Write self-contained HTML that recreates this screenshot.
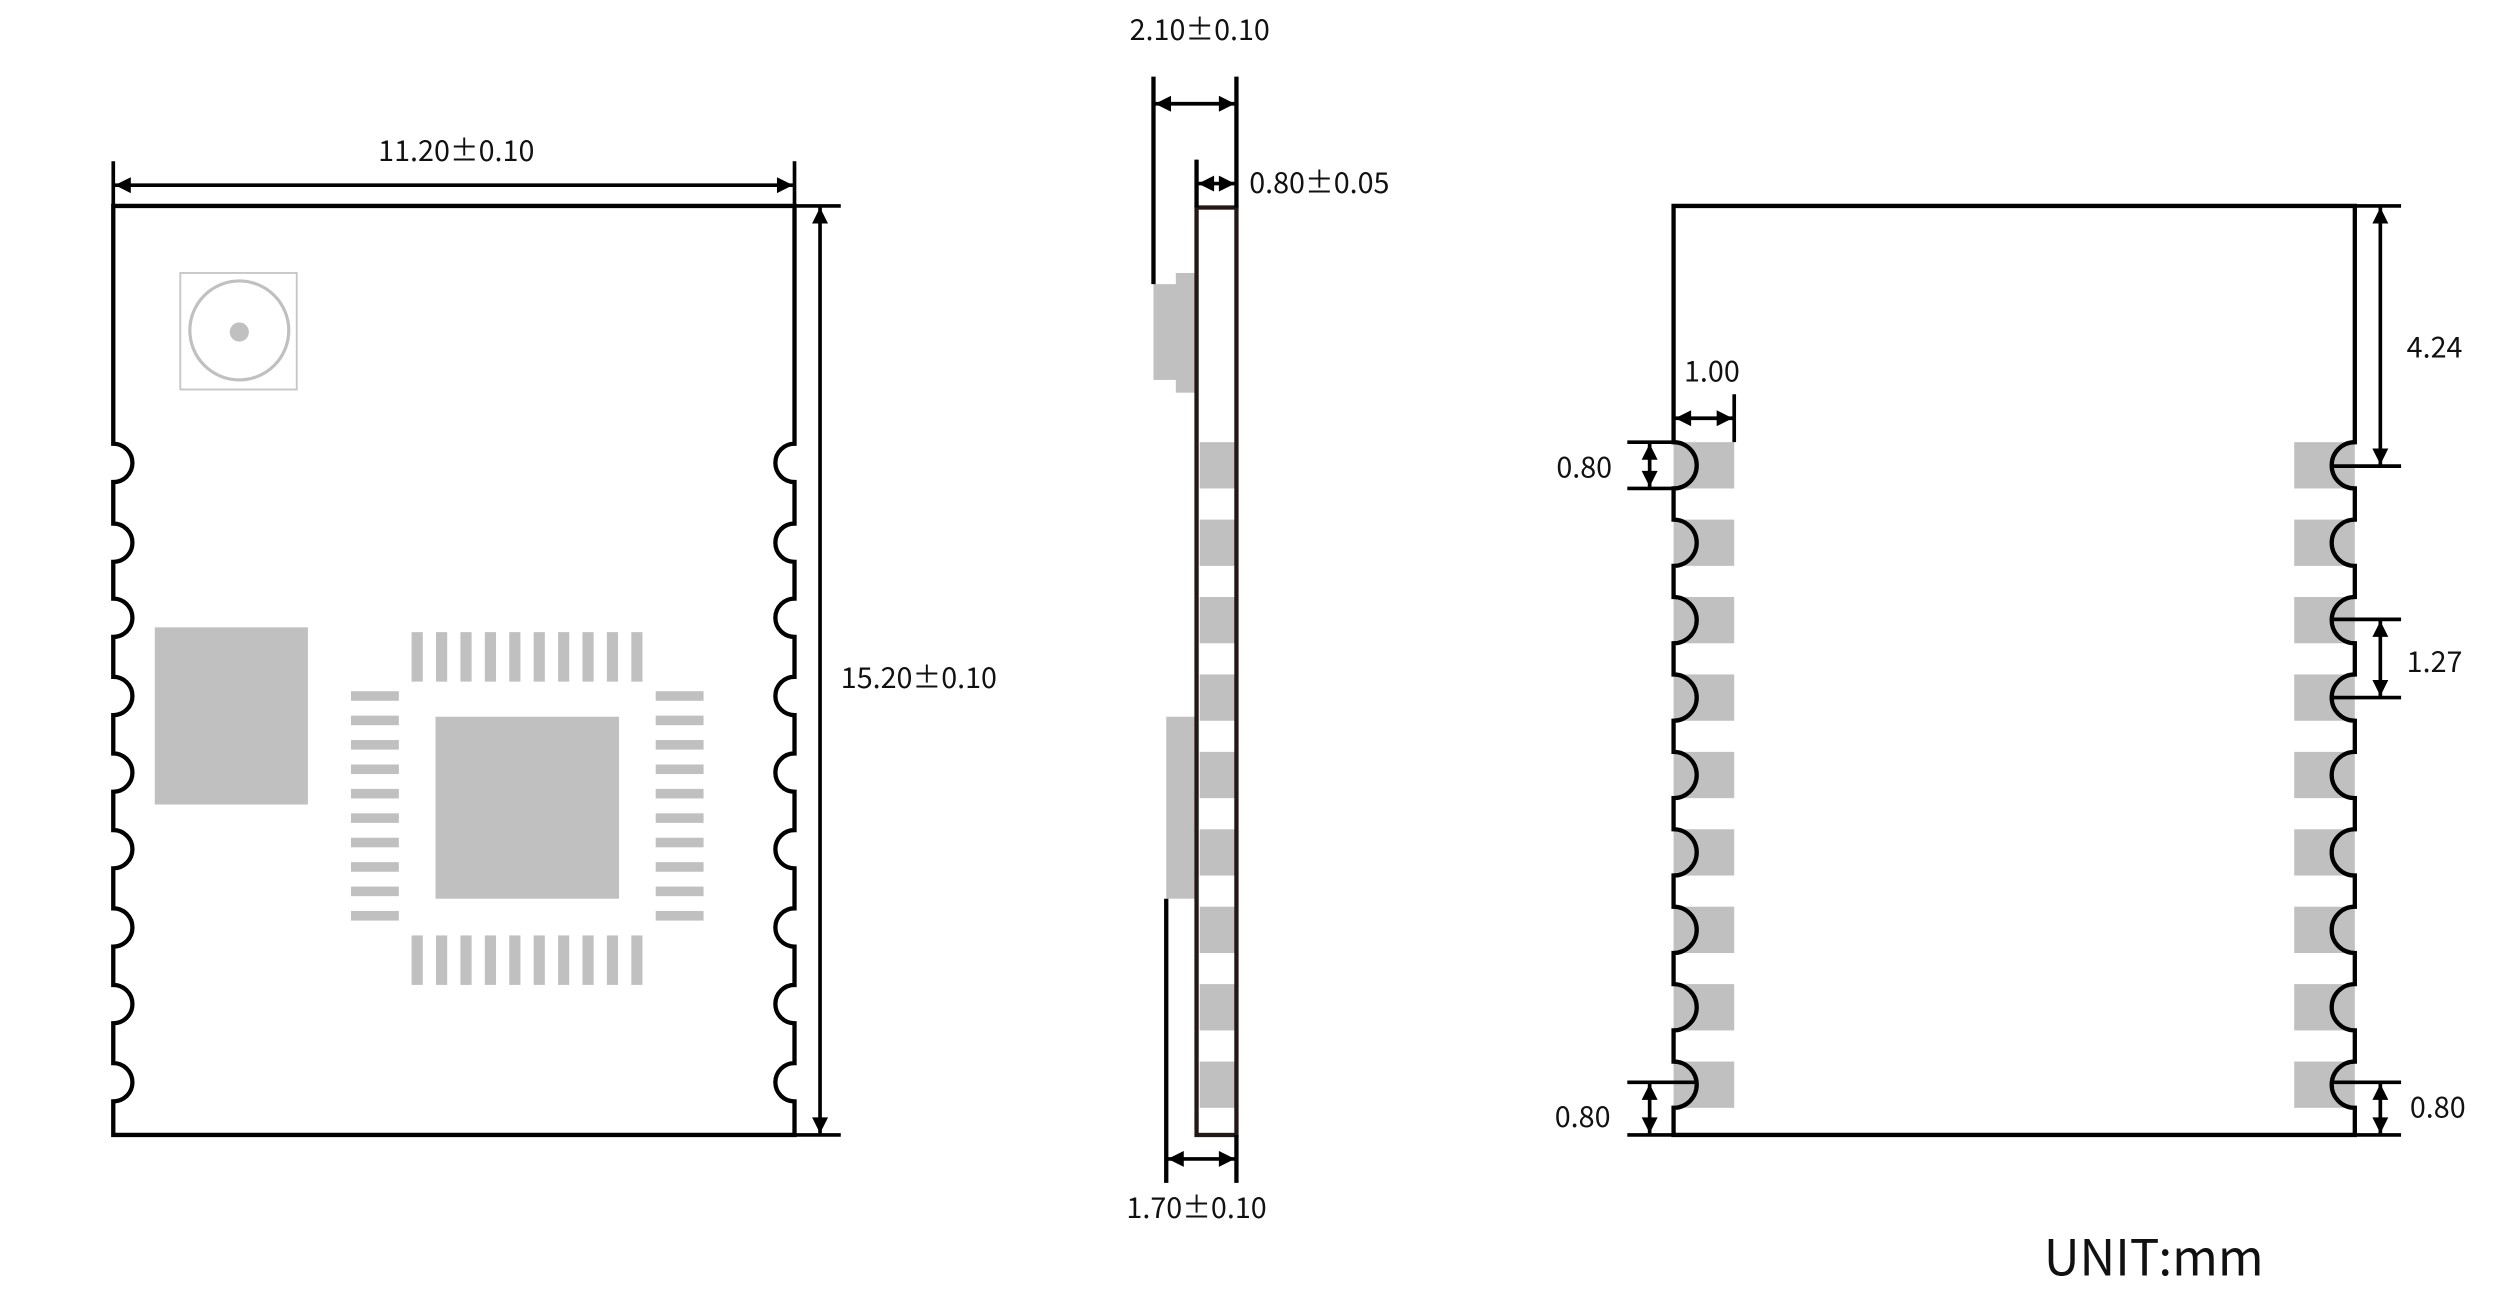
<!DOCTYPE html>
<html><head><meta charset="utf-8"><style>
html,body{margin:0;padding:0;background:#fff;}
svg{display:block;}
text{font-family:"Noto Sans CJK SC","Liberation Sans",sans-serif;fill:#111;}
</style></head><body>
<svg width="2500" height="1293" viewBox="0 0 1567 810" preserveAspectRatio="none" xmlns="http://www.w3.org/2000/svg">
<defs>
<marker id="b" viewBox="0 0 10 10" refX="10" refY="5" markerWidth="12" markerHeight="10" orient="auto-start-reverse" markerUnits="userSpaceOnUse"><path d="M0,0 L10,5 L0,10 z" fill="#000"/></marker>
</defs>
<g fill="#c0c0c0">
<rect x="97" y="393" width="96" height="111"/>
<rect x="273" y="449" width="115" height="114"/>
<g id="tp">
<rect x="258" y="396" width="7" height="31"/><rect x="273.3" y="396" width="7" height="31"/><rect x="288.6" y="396" width="7" height="31"/><rect x="303.9" y="396" width="7" height="31"/><rect x="319.2" y="396" width="7" height="31"/><rect x="334.5" y="396" width="7" height="31"/><rect x="349.8" y="396" width="7" height="31"/><rect x="365.1" y="396" width="7" height="31"/><rect x="380.4" y="396" width="7" height="31"/><rect x="395.7" y="396" width="7" height="31"/>
</g>
<use href="#tp" y="190"/>
<g id="lp">
<rect x="220" y="433" width="30" height="6"/><rect x="220" y="448.3" width="30" height="6"/><rect x="220" y="463.6" width="30" height="6"/><rect x="220" y="478.9" width="30" height="6"/><rect x="220" y="494.2" width="30" height="6"/><rect x="220" y="509.5" width="30" height="6"/><rect x="220" y="524.8" width="30" height="6"/><rect x="220" y="540.1" width="30" height="6"/><rect x="220" y="555.4" width="30" height="6"/><rect x="220" y="570.7" width="30" height="6"/>
</g>
<use href="#lp" x="191"/>
<rect x="723" y="178" width="27" height="60"/>
<rect x="737" y="171" width="13" height="75"/>
<rect x="731" y="449" width="19" height="114"/>
<rect x="752" y="277" width="22" height="29"/><rect x="752" y="325.5" width="22" height="29"/><rect x="752" y="374" width="22" height="29"/><rect x="752" y="422.5" width="22" height="29"/><rect x="752" y="471" width="22" height="29"/><rect x="752" y="519.5" width="22" height="29"/><rect x="752" y="568" width="22" height="29"/><rect x="752" y="616.5" width="22" height="29"/><rect x="752" y="665" width="22" height="29"/>
</g>
<g fill="#c0c0c0" transform="translate(1049,0)">
<rect x="0" y="277" width="38" height="29"/><rect x="0" y="325.5" width="38" height="29"/><rect x="0" y="374" width="38" height="29"/><rect x="0" y="422.5" width="38" height="29"/><rect x="0" y="471" width="38" height="29"/><rect x="0" y="519.5" width="38" height="29"/><rect x="0" y="568" width="38" height="29"/><rect x="0" y="616.5" width="38" height="29"/><rect x="0" y="665" width="38" height="29"/>
</g>
<g fill="#c0c0c0" transform="translate(1438,0)">
<rect x="0" y="277" width="38" height="29"/><rect x="0" y="325.5" width="38" height="29"/><rect x="0" y="374" width="38" height="29"/><rect x="0" y="422.5" width="38" height="29"/><rect x="0" y="471" width="38" height="29"/><rect x="0" y="519.5" width="38" height="29"/><rect x="0" y="568" width="38" height="29"/><rect x="0" y="616.5" width="38" height="29"/><rect x="0" y="665" width="38" height="29"/>
</g>
<rect x="113" y="171" width="73" height="73" fill="none" stroke="#c8c8c8" stroke-width="1.2"/>
<circle cx="150" cy="207" r="31" fill="none" stroke="#c0c0c0" stroke-width="2"/>
<circle cx="150" cy="208" r="6" fill="#c0c0c0"/>

<g fill="none" stroke="#000" stroke-width="2.7">
<path d="M498 129 H71 V278 A12 12 0 0 1 71 302 V328 A12 12 0 0 1 71 352 V375 A12 12 0 0 1 71 399 V424 A12 12 0 0 1 71 448 V472 A12 12 0 0 1 71 496 V520 A12 12 0 0 1 71 544 V569 A12 12 0 0 1 71 593 V617 A12 12 0 0 1 71 641 V666 A12 12 0 0 1 71 690 V711 H498 V690 A12 12 0 0 1 498 666 V641 A12 12 0 0 1 498 617 V593 A12 12 0 0 1 498 569 V544 A12 12 0 0 1 498 520 V496 A12 12 0 0 1 498 472 V448 A12 12 0 0 1 498 424 V399 A12 12 0 0 1 498 375 V352 A12 12 0 0 1 498 328 V302 A12 12 0 0 1 498 278 Z"/>
<path d="M1476 129 H1049 V277 A14.5 14.5 0 0 1 1049 306 V325.5 A14.5 14.5 0 0 1 1049 354.5 V374 A14.5 14.5 0 0 1 1049 403 V422.5 A14.5 14.5 0 0 1 1049 451.5 V471 A14.5 14.5 0 0 1 1049 500 V519.5 A14.5 14.5 0 0 1 1049 548.5 V568 A14.5 14.5 0 0 1 1049 597 V616.5 A14.5 14.5 0 0 1 1049 645.5 V665 A14.5 14.5 0 0 1 1049 694 V711 H1476 V694 A14.5 14.5 0 0 1 1476 665 V645.5 A14.5 14.5 0 0 1 1476 616.5 V597 A14.5 14.5 0 0 1 1476 568 V548.5 A14.5 14.5 0 0 1 1476 519.5 V500 A14.5 14.5 0 0 1 1476 471 V451.5 A14.5 14.5 0 0 1 1476 422.5 V403 A14.5 14.5 0 0 1 1476 374 V354.5 A14.5 14.5 0 0 1 1476 325.5 V306 A14.5 14.5 0 0 1 1476 277 Z"/>
<rect x="750" y="130" width="25" height="581" stroke="#231815"/>
</g>

<g stroke="#000" stroke-width="2.3" fill="none">
<line x1="71" y1="101" x2="71" y2="129"/><line x1="498" y1="101" x2="498" y2="129"/>
<line x1="72" y1="116" x2="497" y2="116" marker-start="url(#b)" marker-end="url(#b)"/>
<line x1="498" y1="129" x2="527" y2="129"/><line x1="498" y1="711" x2="527" y2="711"/>
<line x1="514" y1="130" x2="514" y2="710" marker-start="url(#b)" marker-end="url(#b)"/>
<line x1="723" y1="48" x2="723" y2="178" stroke-width="2.7"/>
<line x1="775" y1="48" x2="775" y2="130" stroke-width="2.7"/>
<line x1="724" y1="65" x2="774" y2="65" marker-start="url(#b)" marker-end="url(#b)"/>
<line x1="750" y1="100" x2="750" y2="130" stroke-width="2.7"/>
<line x1="751" y1="115" x2="774" y2="115" marker-start="url(#b)" marker-end="url(#b)"/>
<line x1="731" y1="563" x2="731" y2="741" stroke-width="2.7"/>
<line x1="775" y1="711" x2="775" y2="741" stroke-width="2.7"/>
<line x1="732" y1="726" x2="774" y2="726" marker-start="url(#b)" marker-end="url(#b)"/>
<line x1="1087" y1="247" x2="1087" y2="277"/>
<line x1="1050" y1="262" x2="1086" y2="262" marker-start="url(#b)" marker-end="url(#b)"/>
<line x1="1020" y1="277" x2="1049" y2="277"/><line x1="1020" y1="306" x2="1049" y2="306"/>
<line x1="1034" y1="278" x2="1034" y2="305" marker-start="url(#b)" marker-end="url(#b)"/>
<line x1="1020" y1="678" x2="1063" y2="678"/><line x1="1020" y1="711" x2="1049" y2="711"/>
<line x1="1034" y1="679" x2="1034" y2="710" marker-start="url(#b)" marker-end="url(#b)"/>
<line x1="1476" y1="129" x2="1505" y2="129"/><line x1="1462" y1="292" x2="1505" y2="292"/>
<line x1="1492" y1="130" x2="1492" y2="291" marker-start="url(#b)" marker-end="url(#b)"/>
<line x1="1462" y1="388" x2="1505" y2="388"/><line x1="1462" y1="437" x2="1505" y2="437"/>
<line x1="1492" y1="389" x2="1492" y2="436" marker-start="url(#b)" marker-end="url(#b)"/>
<line x1="1462" y1="678" x2="1505" y2="678"/><line x1="1476" y1="711" x2="1505" y2="711"/>
<line x1="1492" y1="679" x2="1492" y2="710" marker-start="url(#b)" marker-end="url(#b)"/>
</g>

<g font-size="18">
<text x="286" y="101" text-anchor="middle">11.20±0.10</text>
<text x="527" y="431">15.20±0.10</text>
<text x="752" y="25" text-anchor="middle">2.10±0.10</text>
<text x="783" y="121">0.80±0.05</text>
<text x="750" y="763" text-anchor="middle">1.70±0.10</text>
<text x="1073" y="239" text-anchor="middle">1.00</text>
<text x="993" y="299" text-anchor="middle">0.80</text>
<text x="992" y="706" text-anchor="middle">0.80</text>
<text x="1526" y="224" text-anchor="middle">4.24</text>
<text x="1526" y="421" text-anchor="middle">1.27</text>
<text x="1528" y="700" text-anchor="middle">0.80</text>
</g>
<text x="1350" y="799" text-anchor="middle" font-size="31">UNIT:mm</text>
</svg>
</body></html>
